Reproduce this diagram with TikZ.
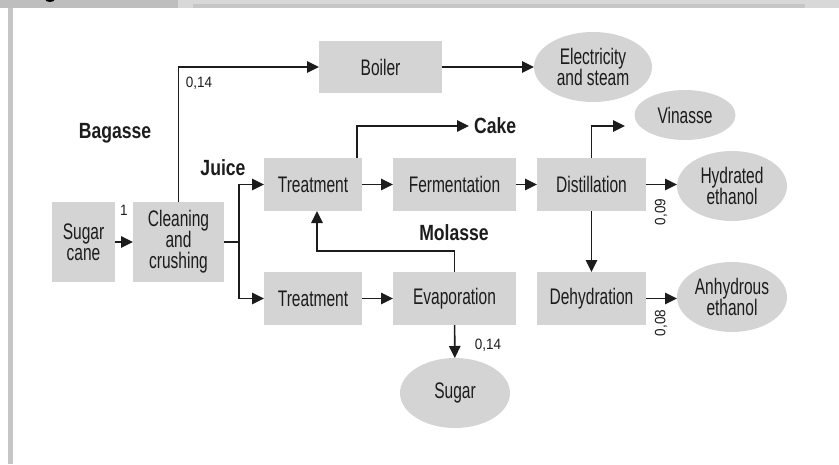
\documentclass[tikz,border=0pt]{standalone}
\usepackage{fontspec}
\setmainfont{Liberation Sans}[FakeStretch=0.69]
\newfontfamily\tagfont{Liberation Sans}[FakeStretch=0.8]
\newfontfamily\numfont{Liberation Sans}[FakeStretch=0.9]
\usetikzlibrary{arrows.meta,shapes.geometric}
\definecolor{boxgrey}{HTML}{D4D4D4}
\definecolor{inkgrey}{HTML}{1C1C1C}
\definecolor{framedark}{HTML}{BEBEBE}
\definecolor{framelight}{HTML}{D8D8D8}
\definecolor{framemid}{HTML}{C6C6C6}
\begin{document}
\begin{tikzpicture}[x=1pt,y=-1pt,
  every node/.style={text=inkgrey},
  procbox/.style={rectangle,fill=boxgrey,inner sep=0pt,outer sep=0pt,align=center,
    font=\fontsize{22.5}{21}\selectfont},
  product/.style={ellipse,fill=boxgrey,inner sep=0pt,outer sep=0pt,align=center,
    font=\fontsize{22.5}{21}\selectfont},
  streamtag/.style={font=\tagfont\bfseries\fontsize{22}{20}\selectfont,inner sep=0pt},
  ratio/.style={font=\numfont\fontsize{15}{15}\selectfont,inner sep=0pt},
  flow/.style={line width=1.6pt,draw=inkgrey,-{Triangle[length=12pt,width=11.5pt]}},
  plain/.style={line width=1.6pt,draw=inkgrey}]

\useasboundingbox (0,0) rectangle (839,464);

% page frame: header band and left rule
\fill[framelight] (0,0) rectangle (839,7.5);
\fill[framedark] (0,0) rectangle (178,7.5);
\fill[framemid] (193,4) rectangle (805,7.5);
\fill[framemid] (8,7.5) rectangle (13,464);
\fill[black] (50,-1) ellipse [x radius=5, y radius=3];

% process steps
\node[procbox,minimum width=63pt,minimum height=80pt] (cane) at (83.5,242) {Sugar\\cane};
\node[procbox,minimum width=91pt,minimum height=80pt] (clean) at (178.5,242) {Cleaning\\and\\crushing};
\node[procbox,minimum width=98pt,minimum height=53pt] (treatA) at (313,184.5) {Treatment};
\node[procbox,minimum width=98pt,minimum height=53pt] (treatB) at (313,298.5) {Treatment};
\node[procbox,minimum width=123pt,minimum height=53pt] (ferm) at (454.5,184.5) {Fermentation};
\node[procbox,minimum width=109pt,minimum height=53pt] (dist) at (591.5,184.5) {Distillation};
\node[procbox,minimum width=123pt,minimum height=53pt] (evap) at (454.5,298.5) {Evaporation};
\node[procbox,minimum width=109pt,minimum height=53pt] (dehy) at (591.5,298.5) {Dehydration};
\node[procbox,minimum width=123pt,minimum height=52pt] (boiler) at (380.5,67) {Boiler};

% products
\node[product,minimum width=118pt,minimum height=70pt] (elec) at (593,67) {Electricity\\and steam};
\node[product,minimum width=101pt,minimum height=50pt] (vin) at (685,115) {Vinasse};
\node[product,minimum width=110pt,minimum height=70pt] (hyd) at (732,186) {Hydrated\\ethanol};
\node[product,minimum width=110pt,minimum height=70pt] (anh) at (732,297) {Anhydrous\\ethanol};
\node[product,minimum width=110pt,minimum height=70pt] (sugar) at (455,393) {Sugar};

% stream names
\node[streamtag] (bagasse) at (115,133) {Bagasse};
\node[streamtag] (juice) at (223,168) {Juice};
\node[streamtag,anchor=west] (cake) at (474,126) {Cake};
\node[streamtag] (molasse) at (454,233) {Molasse};

% yields
\node[ratio] (r1) at (124,210) {1};
\node[ratio] (rbag) at (199,83) {0,14};
\node[ratio] (rsug) at (488,345) {0,14};
\node[ratio,rotate=90] (rhyd) at (661,212) {0,09};
\node[ratio,rotate=90] (ranh) at (661,323) {0,08};

% junction and free arrow ends
\coordinate (jn) at (239,242);
\coordinate (vinin) at (625,126);
\coordinate (molbend) at (317,251);

% connectors
\draw[flow] (cane) -- (clean);
\draw[flow] (clean.north) |- (boiler.west);
\draw[flow] (boiler) -- (boiler -| elec.west);
\draw[plain] (clean.east) -- (jn);
\draw[flow] (jn) |- (treatA.west);
\draw[flow] (jn) |- (treatB.west);
\draw[flow] (treatA) -- (ferm);
\draw[flow] (ferm) -- (dist);
\draw[flow] (dist.east) -- (dist.east -| hyd.west);
\draw[flow] (dist) -- (dehy);
\draw[flow] (dehy.east) -- (dehy.east -| anh.west);
\draw[flow] (dist.north) |- (vinin);
\draw[flow] ([xshift=44pt]treatA.north) |- ([xshift=-5pt]cake.west);
\draw[flow] (treatB) -- (evap);
\draw[flow] (evap) -- (sugar);
\draw[flow] (evap.north) |- (molbend) -- ([xshift=4pt]treatA.south);

\end{tikzpicture}
\end{document}
